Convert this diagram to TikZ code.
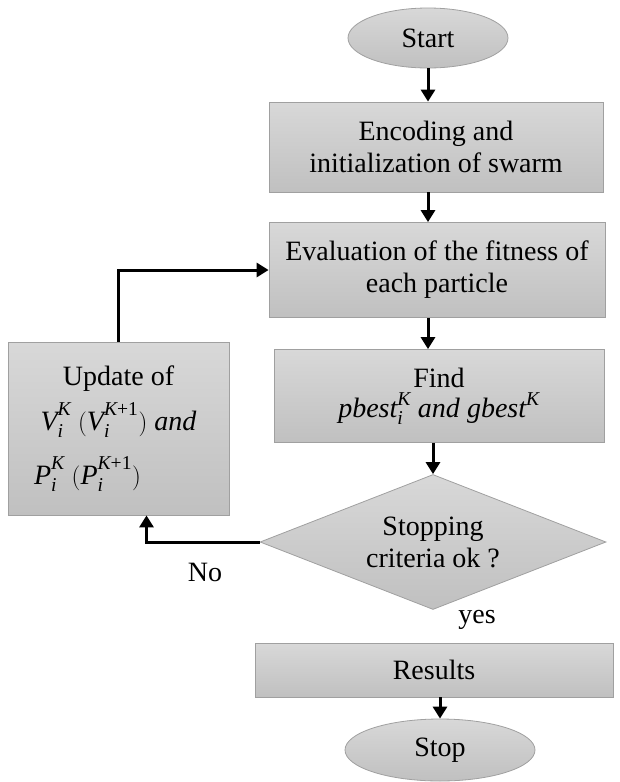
\documentclass[tikz,border=0pt]{standalone}
\usepackage{amsmath}
\usepackage{fontspec}
\setmainfont{Liberation Serif}
\usetikzlibrary{shapes.geometric,arrows.meta}
\definecolor{boxtop}{RGB}{216,216,216}
\definecolor{boxbot}{RGB}{192,192,192}
\definecolor{boxline}{RGB}{160,160,160}
\newcommand{\itv}[1]{\textit{#1}}
% italic symbol with subscript i and a high-set superscript
\newcommand{\symsi}[2]{\itv{#1}_{\itv{i}}^{\raisebox{5pt}{$\scriptstyle #2$}}}
\begin{document}
\begin{tikzpicture}[x=1pt,y=-1pt,
  font=\fontsize{28}{32}\selectfont,
  base/.style={draw=boxline, line width=0.8pt, top color=boxtop, bottom color=boxbot,
               align=center, inner sep=0pt},
  procbox/.style={base, rectangle},
  termbox/.style={base, ellipse},
  decbox/.style={base, diamond, aspect=2.56},
  arr/.style={line width=3pt, -{Triangle[width=14pt,length=12pt]}},
]
\useasboundingbox (0,0) rectangle (619,782);

% terminals
\node[termbox, minimum width=160pt, minimum height=60pt] (start) at (428,38) {Start};
\node[termbox, minimum width=190pt, minimum height=62pt] (stop) at (440,750) {Stop};

% process steps
\node[procbox, minimum width=334pt, minimum height=90pt] (enc) at (436,147)
  {Encoding and\\initialization of swarm};
\node[procbox, minimum width=336pt, minimum height=95pt] (eval) at (437,270)
  {Evaluation of the fitness of\\each particle};
\node[procbox, minimum width=330pt, minimum height=93pt] (find) at (439,396)
  {Find\\[-2pt]$\itv{pbest}_{\itv{i}}^{\itv{K}}$ \itv{and} $\itv{gbest}^{\itv{K}}$};
\node[procbox, minimum width=221pt, minimum height=173pt] (upd) at (118.5,428.5)
  {Update of\\[10pt]
   $\symsi{V}{\itv{K}}\;(\symsi{V}{\itv{K}\textrm{+1}})$ \itv{and}\\[18pt]
   $\symsi{P}{\itv{K}}\;(\symsi{P}{\itv{K}\textrm{+1}})$\hspace*{62pt}};
\node[decbox, minimum width=346pt, minimum height=135pt] (dec) at (433,542)
  {Stopping\\criteria ok ?};
\node[procbox, minimum width=358pt, minimum height=54pt] (res) at (434,670) {Results};

% branch labels
\node (nolbl) at (205,572) {No};
\node (yeslbl) at (477,620) {yes};

% main flow
\draw[arr] (start.south) -- (start.south |- enc.north);
\draw[arr] (start.south |- enc.south) -- (start.south |- eval.north);
\draw[arr] (start.south |- eval.south) -- (start.south |- find.north);
\draw[arr] (dec.north |- find.south) -- (dec.north);
\draw[arr] (stop.north |- res.south) -- (stop.north);

% loop back
\coordinate (updin) at ([xshift=28pt]upd.south);
\draw[arr] (dec.west) -| (updin);
\draw[arr] (upd.north) |- (eval.west);
\end{tikzpicture}
\end{document}
